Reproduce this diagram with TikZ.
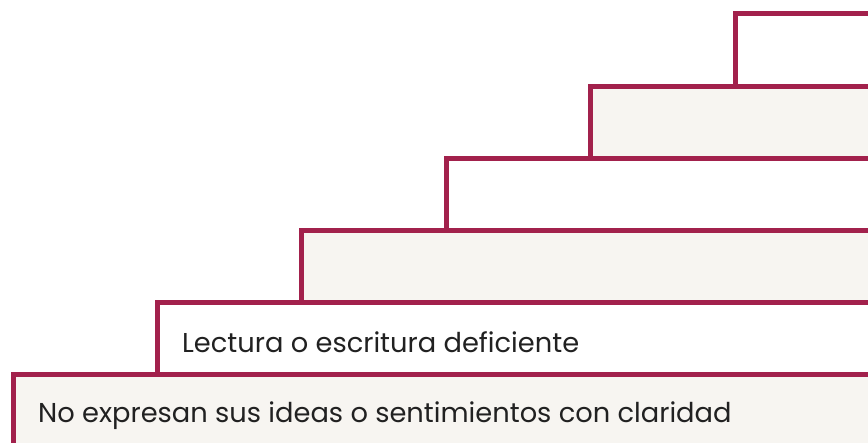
\documentclass[tikz,border=0pt]{standalone}
\usepackage{fontspec}
\setmainfont{Poppins}
\definecolor{crim}{HTML}{A2214C}
\definecolor{paper}{HTML}{F7F5F1}
\tikzset{
  row/.style={draw=crim, line width=5pt, anchor=north west, inner sep=0pt, outer sep=0pt},
  lbl/.style={anchor=base west, font=\fontsize{27.3}{32}\selectfont, text=black!87, inner sep=0pt}
}
\begin{document}
\begin{tikzpicture}[x=1pt,y=-1pt]
\useasboundingbox (0,0) rectangle (868,443);
\clip (0,0) rectangle (868,443);
\node[row, fill=white, minimum width=160pt, minimum height=72.5pt] (r1) at (735,14) {};
\node[row, fill=paper, minimum width=300pt, minimum height=72pt] (r2) at (590.5,86.5) {};
\node[row, fill=white, minimum width=450pt, minimum height=72pt] (r3) at (446.5,158.5) {};
\node[row, fill=paper, minimum width=600pt, minimum height=72.5pt] (r4) at (301.5,230.5) {};
\node[row, fill=white, minimum width=750pt, minimum height=72pt] (r5) at (157,303) {};
\node[row, fill=paper, minimum width=900pt, minimum height=100pt] (r6) at (13,375) {};
\node[lbl] (t5) at (182,353) {Lectura o escritura deficiente};
\node[lbl] (t6) at (38,423) {No expresan sus ideas o sentimientos con claridad};
\end{tikzpicture}
\end{document}
